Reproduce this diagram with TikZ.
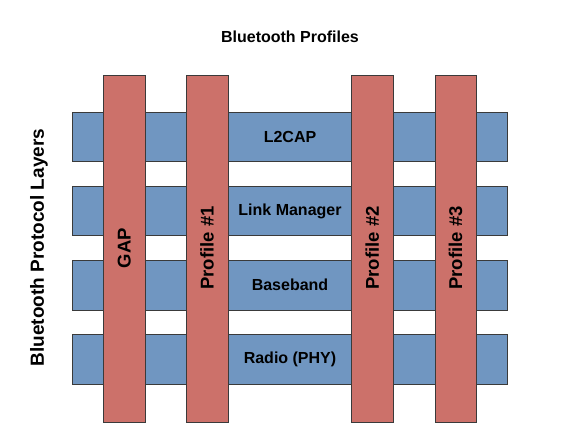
\documentclass[tikz,border=0pt]{standalone}
\usepackage{fontspec}
\setmainfont{Liberation Sans}
\definecolor{layerblue}{HTML}{7096C1}
\definecolor{profred}{HTML}{CC716A}
\definecolor{edgegray}{HTML}{3A3A3A}
\begin{document}
\begin{tikzpicture}[x=1pt,y=-1pt,
  layer/.style={draw=edgegray,line width=0.9pt,fill=layerblue},
  profile/.style={draw=edgegray,line width=0.9pt,fill=profred},
  lbl/.style={font=\bfseries\fontsize{16}{18}\selectfont,inner sep=0pt},
  vlbl/.style={font=\bfseries\fontsize{18.5}{20}\selectfont,inner sep=0pt,rotate=90}]
\useasboundingbox (0,0) rectangle (561,436);
% layers
\draw[layer] (72,112) rectangle (507,161);
\draw[layer] (72,186.5) rectangle (507,235.5);
\draw[layer] (72,260.5) rectangle (507,310);
\draw[layer] (72,334.5) rectangle (507,384);
% profiles
\draw[profile] (103.5,75) rectangle (145,422);
\draw[profile] (186,75) rectangle (228,422);
\draw[profile] (351.5,75) rectangle (393,422);
\draw[profile] (435,75) rectangle (476,422);
% labels
\node[lbl] (title) at (290,37) {Bluetooth Profiles};
\node[font=\bfseries\fontsize{19}{21}\selectfont,inner sep=0pt,rotate=90] (side) at (39,247.5) {Bluetooth Protocol Layers};
\node[lbl] (l2cap) at (290,136.5) {L2CAP};
\node[lbl] (lm) at (290,211) {Link Manager};
\node[lbl] (bb) at (290,285) {Baseband};
\node[lbl] (radio) at (290,359) {Radio (PHY)};
\node[vlbl] (gap) at (124.2,248) {GAP};
\node[vlbl] (p1) at (207,248) {Profile \#1};
\node[vlbl] (p2) at (372.2,248) {Profile \#2};
\node[vlbl] (p3) at (455.5,248) {Profile \#3};
\end{tikzpicture}
\end{document}
